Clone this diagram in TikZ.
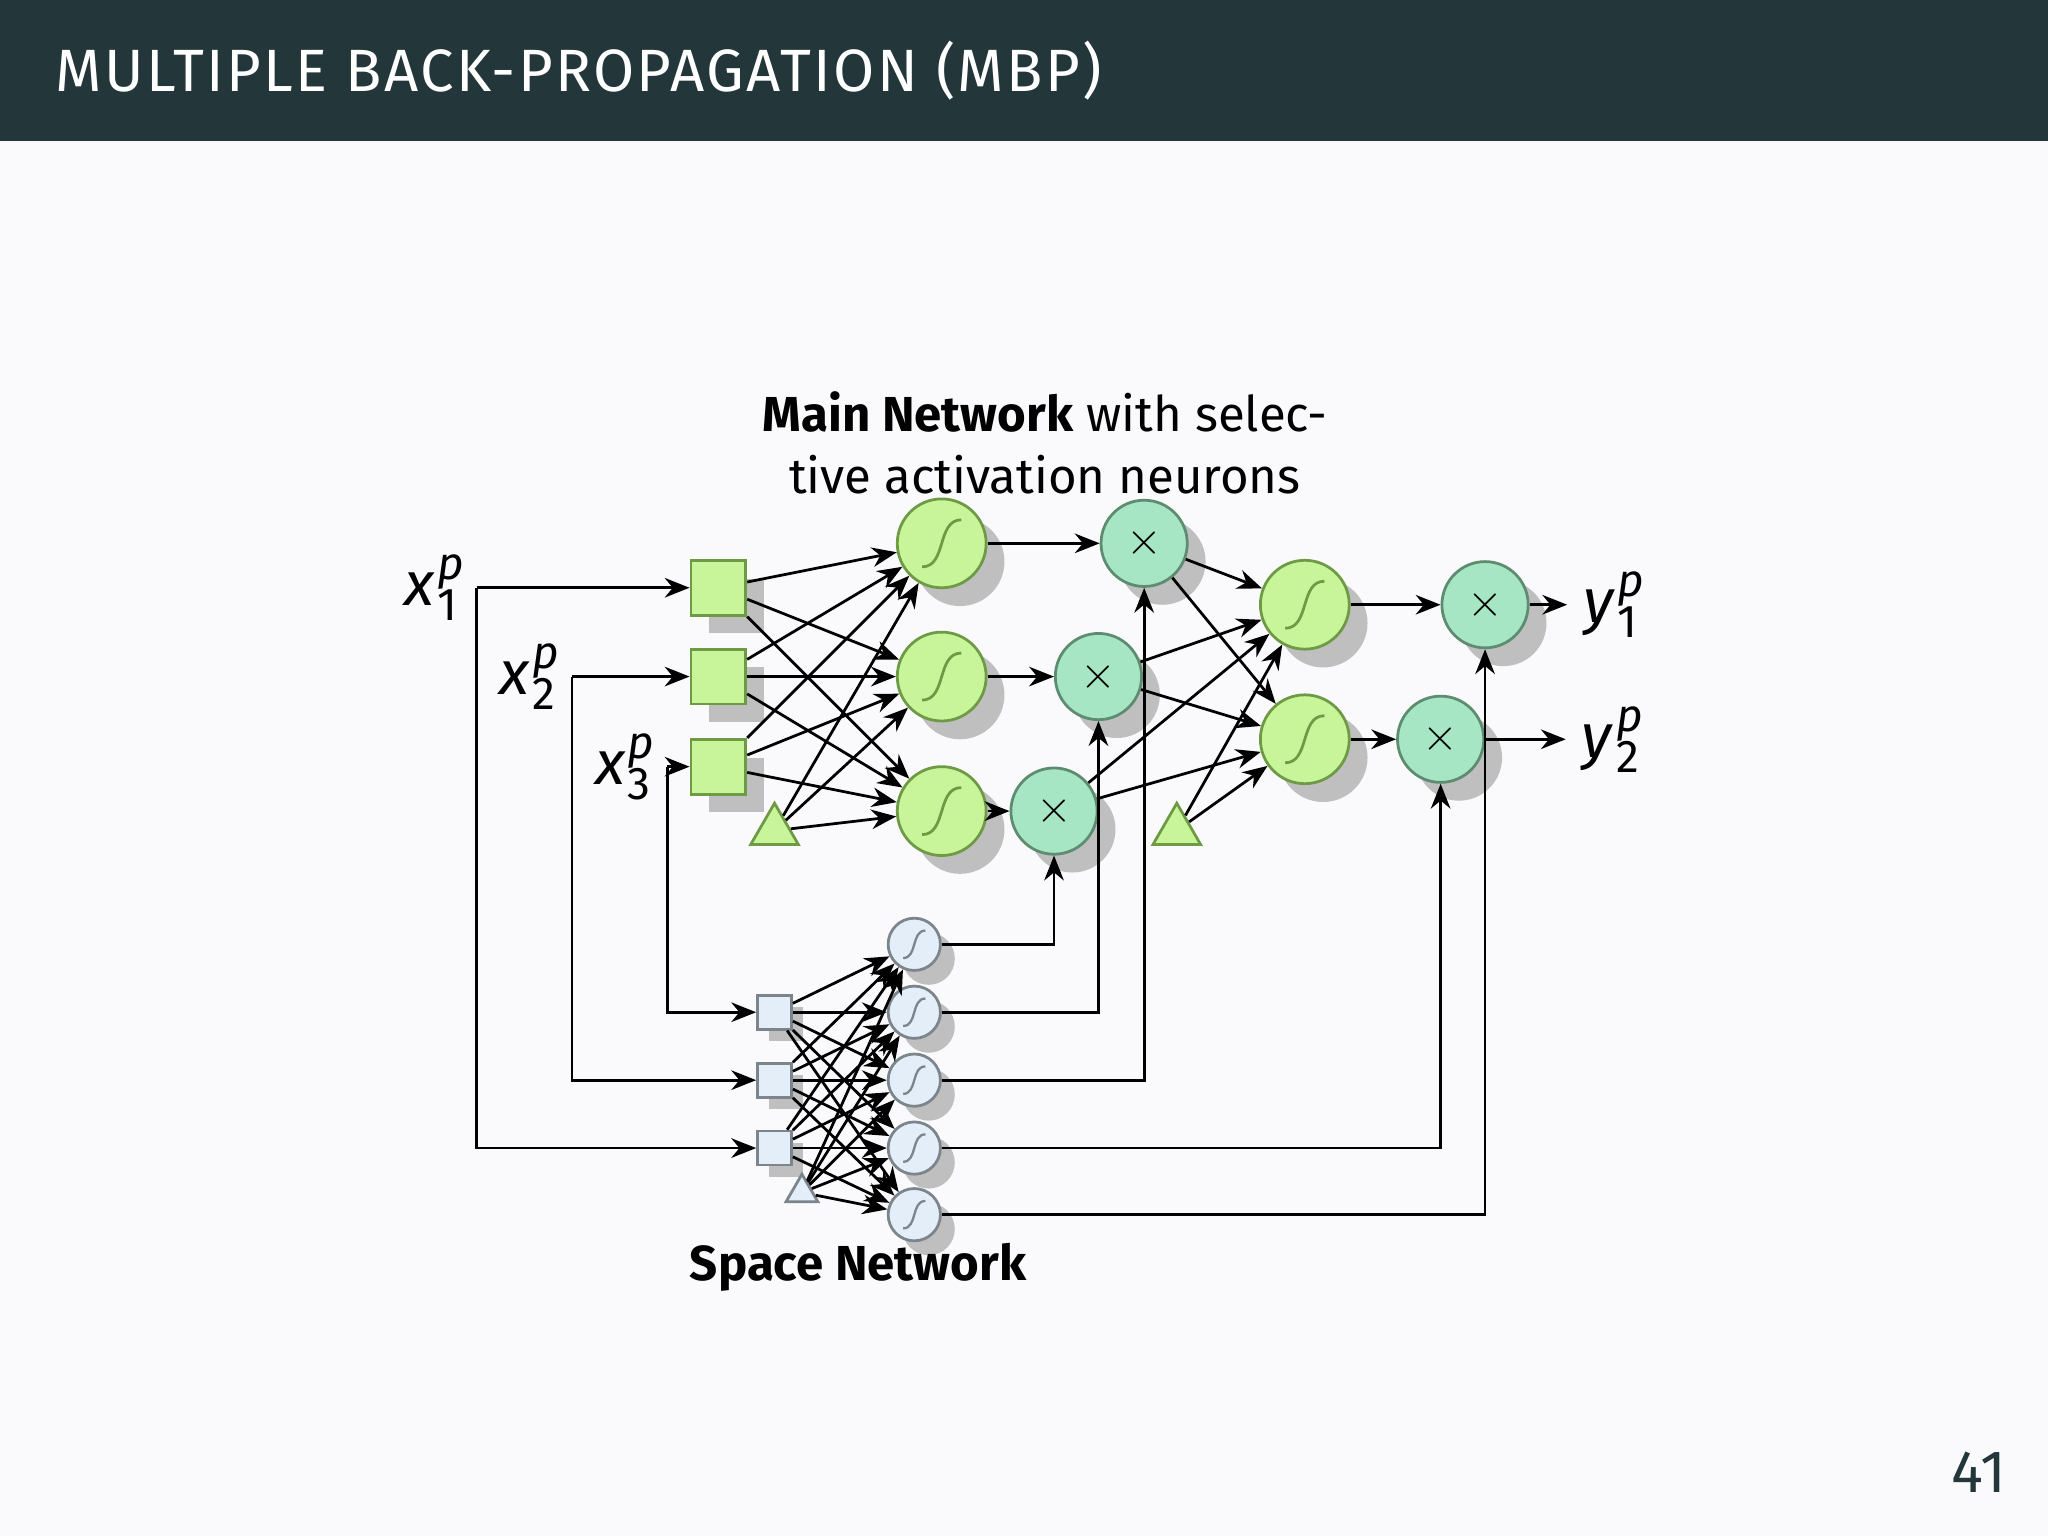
\documentclass[tikz,border=0pt]{standalone}
\usepackage{fontspec}
\setmainfont{Fira Sans}
\usetikzlibrary{arrows.meta,shapes.geometric,shadows}
\definecolor{bg}{HTML}{FAFAFC}
\definecolor{hdr}{HTML}{23373B}
\definecolor{gfill}{HTML}{C8F59A}
\definecolor{gline}{HTML}{6F9A45}
\definecolor{pfill}{HTML}{A6E6C4}
\definecolor{pline}{HTML}{5E8C70}
\definecolor{sfill}{HTML}{E4EEF9}
\definecolor{sline}{HTML}{7C848C}
\newcommand\myvar[3]{\textit{#1}\kern0.5pt\raisebox{0.8ex}{\makebox[0pt][l]{\fontsize{10}{10}\selectfont\textit{#2}}}\raisebox{-0.45ex}{\fontsize{10}{10}\selectfont #3}}
\tikzset{
  x=0.01cm,y=-0.01cm,
  shd/.style={drop shadow={shadow xshift=1.4mm,shadow yshift=-1.4mm,fill=black!25,opacity=1}},
  gsq/.style={draw=gline,fill=gfill,line width=0.6pt,minimum size=4.2mm,inner sep=0,shd},
  gtri/.style={regular polygon,regular polygon sides=3,draw=gline,fill=gfill,line width=0.6pt,minimum size=4.2mm,inner sep=0},
  gsig/.style={circle,draw=gline,fill=gfill,line width=0.6pt,minimum size=6.8mm,inner sep=0,shd,
    path picture={\draw[line width=0.6pt] ([shift={(-1.5mm,-1.8mm)}]path picture bounding box.center) .. controls +(1.9mm,0) and +(-1.9mm,0) .. +(3mm,3.6mm)
    ;}},
  gprod/.style={circle,draw=pline,fill=pfill,line width=0.6pt,minimum size=6.6mm,inner sep=0,shd,font=\normalsize},
  ssq/.style={draw=sline,fill=sfill,line width=0.6pt,minimum size=2.6mm,inner sep=0,drop shadow={shadow xshift=0.9mm,shadow yshift=-0.9mm,fill=black!25,opacity=1}},
  stri/.style={regular polygon,regular polygon sides=3,draw=sline,fill=sfill,line width=0.6pt,minimum size=2.8mm,inner sep=0},
  ssig/.style={circle,draw=sline,fill=sfill,line width=0.6pt,minimum size=4mm,inner sep=0,drop shadow={shadow xshift=1.1mm,shadow yshift=-1.1mm,fill=black!25,opacity=1},
    path picture={\draw[line width=0.5pt] ([shift={(-0.85mm,-1.05mm)}]path picture bounding box.center) .. controls +(1.1mm,0) and +(-1.1mm,0) .. +(1.7mm,2.1mm);}},
  arr/.style={-{Stealth[length=1.9mm,width=1.5mm]},line width=0.6pt},
  lab/.style={font=\fontsize{13.5}{13.5}\selectfont}
}
\begin{document}
\begin{tikzpicture}
\fill[bg] (0,0) rectangle (1568,1176);
\fill[hdr] (0,0) rectangle (1568,108);
\node[anchor=west,text=white,font=\fontsize{13}{13}\selectfont] (title) at (30,54) {\addfontfeature{LetterSpace=4}MULTIPLE BACK-PROPAGATION (MBP)};
\node[text=hdr,font=\fontsize{13}{13}\selectfont] (pg) at (1515,1127) {41};

% main network
\node[gsq] (i1) at (550,450) {};
\node[gsq] (i2) at (550,518) {};
\node[gsq] (i3) at (550,587) {};
\node[gtri] (b1) at (593,636) {};
\node[gsig] (h1) at (721,416) {};
\node[gsig] (h2) at (721,518) {};
\node[gsig] (h3) at (721,621) {};
\node[gprod] (p1) at (876,416) {$\times$};
\node[gprod] (p2) at (841,518) {$\times$};
\node[gprod] (p3) at (807,621) {$\times$};
\node[gtri] (b2) at (901,636) {};
\node[gsig] (o1) at (999,463) {};
\node[gsig] (o2) at (999,566) {};
\node[gprod] (q1) at (1137,463) {$\times$};
\node[gprod] (q2) at (1103,566) {$\times$};

\node[font=\fontsize{10.7}{13.6}\selectfont,align=center] (mn) at (800,339) {\textbf{Main Network} with selec-\\tive activation neurons};

% space network
\node[ssq] (s1) at (593,775) {};
\node[ssq] (s2) at (593,827) {};
\node[ssq] (s3) at (593,879) {};
\node[stri] (sb) at (614,913) {};
\foreach \i/\y in {1/723,2/775,3/827,4/879,5/930} \node[ssig] (t\i) at (700,\y) {};
\node[font=\bfseries\fontsize{10.7}{13}\selectfont] (sn) at (657,970) {Space Network};

% labels
\node[lab] (x1) at (330,450) {\myvar{x}{p}{1}};
\node[lab] (x2) at (404,518) {\myvar{x}{p}{2}};
\node[lab] (x3) at (477,587) {\myvar{x}{p}{3}};
\node[lab] (y1) at (1233,463) {\myvar{y}{p}{1}};
\node[lab] (y2) at (1233,566) {\myvar{y}{p}{2}};
\coordinate (c1) at (365,450);
\coordinate (c2) at (438,518);
\coordinate (c3) at (511,587);

% connections main
\foreach \a in {i1,i2,i3,b1} \foreach \b in {h1,h2,h3} \draw[arr] (\a) -- (\b);
\foreach \i in {1,2,3} \draw[arr] (h\i) -- (p\i);
\foreach \a in {p1,p2,p3,b2} \foreach \b in {o1,o2} \draw[arr] (\a) -- (\b);
\draw[arr] (o1) -- (q1);
\draw[arr] (o2) -- (q2);
\draw[arr] (q1) -- (y1);
\draw[arr] (q2) -- (y2);
\draw[arr] (c1) -- (i1);
\draw[arr] (c2) -- (i2);
\draw[arr] (c3) -- (i3);
\draw[arr] (c1) |- (s3);
\draw[arr] (c2) |- (s2);
\draw[arr] (c3) |- (s1);

% connections space
\foreach \a in {s1,s2,s3,sb} \foreach \b in {1,...,5} \draw[arr] (\a) -- (t\b);
\draw[arr] (t1) -| (p3);
\draw[arr] (t2) -| (p2);
\draw[arr] (t3) -| (p1);
\draw[arr] (t4) -| (q2);
\draw[arr] (t5) -| (q1);
\end{tikzpicture}
\end{document}
